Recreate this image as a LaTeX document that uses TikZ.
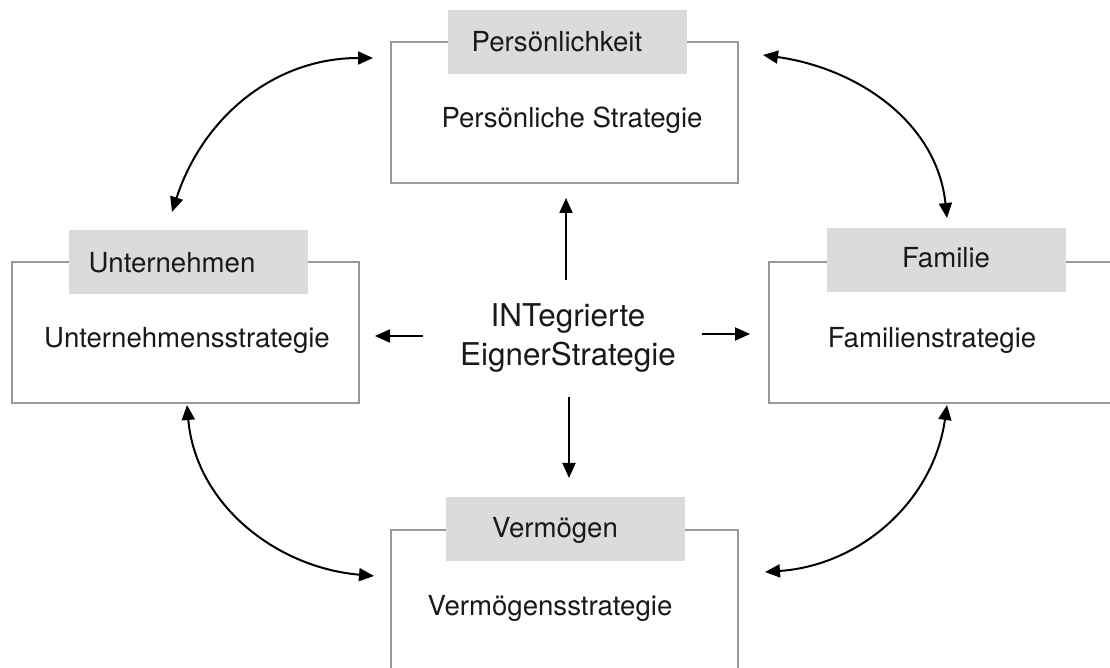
\documentclass[tikz,border=0pt]{standalone}
\usepackage{fontspec}
\setmainfont{TeX Gyre Heros}
\usepackage{tikz}
\usetikzlibrary{arrows.meta}

\begin{document}
\begin{tikzpicture}[x=0.5pt, y=-0.5pt,
    stratbox/.style={draw=black!40, line width=0.75pt, minimum width=173.5pt, minimum height=70.5pt},
    tab/.style={fill=black!14, inner sep=0pt, minimum width=119.5pt, minimum height=32pt},
    txt/.style={font=\fontsize{13.8}{16}\selectfont, text=black!90},
    link/.style={{Triangle[length=7.5pt,width=6.5pt]}-{Triangle[length=7.5pt,width=6.5pt]}, line width=1pt},
    push/.style={-{Triangle[length=7.5pt,width=6.5pt]}, line width=1pt}]
    \useasboundingbox (0,0) rectangle (1110,668);
    \clip (0,0) rectangle (1110,668);

    % the four boxes
    \node[stratbox] (pers) at (564.5,112.5) {};
    \node[stratbox] (unt) at (185.5,332.5) {};
    \node[stratbox] (fam) at (942.5,332.5) {};
    \node[stratbox] (verm) at (564.5,600.5) {};

    % grey tabs
    \node[tab] (persTab) at (567.5,42) {};
    \node[tab] (untTab) at (188,262) {};
    \node[tab] (famTab) at (946,260.5) {};
    \node[tab] (vermTab) at (565,529) {};

    \node[txt] (persName) at (557,42) {Persönlichkeit};
    \node[txt] (untName) at (172,263) {Unternehmen};
    \node[txt] (famName) at (946,258) {Familie};
    \node[txt] (vermName) at (555,530) {Vermögen};

    \node[txt] (persStrat) at (572,120) {Persönliche Strategie};
    \node[txt] (untStrat) at (187,340) {Unternehmensstrategie};
    \node[txt] (famStrat) at (932,340) {Familienstrategie};
    \node[txt] (vermStrat) at (550,608) {Vermögensstrategie};

    % centre
    \node[align=center, font=\fontsize{15.7}{19.5}\selectfont, text=black!90] (ies) at (568,338) {INTegrierte\\EignerStrategie};

    \coordinate (iesN) at (566,280);
    \coordinate (iesS) at (569,397);
    \coordinate (iesW) at (423,336);
    \coordinate (iesE) at (702,334);
    \draw[push] (iesN) -- (566,198);
    \draw[push] (iesS) -- (569,478);
    \draw[push] (iesW) -- (375,336);
    \draw[push] (iesE) -- (750,334);

    % links between the boxes
    \coordinate (tlA) at (172,212);
    \coordinate (tlB) at (373,58);
    \coordinate (trA) at (763,55);
    \coordinate (trB) at (947,218);
    \coordinate (blA) at (187,405);
    \coordinate (blB) at (374,576);
    \coordinate (brA) at (947,405);
    \coordinate (brB) at (765,572);
    \draw[link] (tlA) to[out=72, in=180] (tlB);
    \draw[link] (trA) to[out=-8, in=96] (trB);
    \draw[link] (blA) to[out=-85, in=175] (blB);
    \draw[link] (brA) to[out=-98, in=4] (brB);
\end{tikzpicture}
\end{document}
